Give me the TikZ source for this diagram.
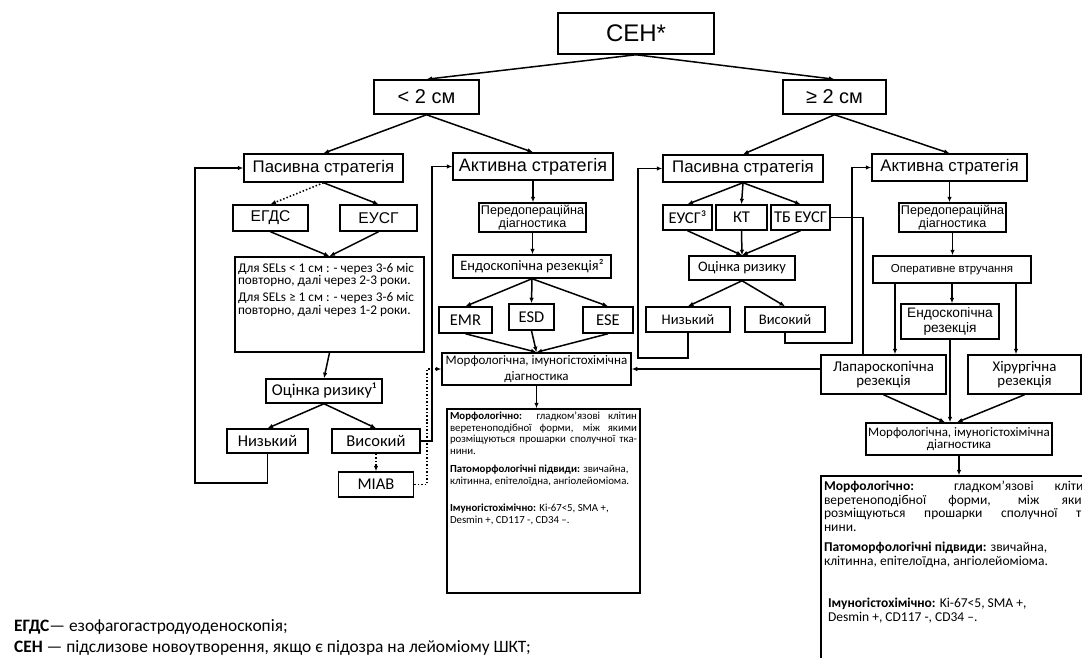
\documentclass[tikz,border=0pt]{standalone}
\usepackage{fontspec}
\setmainfont{Carlito}
\newfontfamily\arialf{Liberation Sans}
\usetikzlibrary{arrows.meta}

\begin{document}
\begin{tikzpicture}[x=1pt, y=-1pt,
    line width=1.5pt, >={Latex[length=5.5pt, width=4.5pt]},
    box/.style={rectangle, draw, fill=white, inner sep=1pt, align=center},
    sz/.style 2 args={minimum width=#1, minimum height=#2},
    af/.style 2 args={font=\arialf\fontsize{#1}{#2}\selectfont},
    cf/.style 2 args={font=\fontsize{#1}{#2}\selectfont}]
  \clip (0,0) rectangle (1082,658);
  \fill [white] (0,0) rectangle (1082,658);

  % Create the nodes
  \node (sen) [box, af={24}{26}, sz={156pt}{41pt}] at (636,33.5) {СЕН*};
  \node (lt2) [box, af={20}{22}, sz={105pt}{34pt}] at (426.5,97) {< 2 см};
  \node (ge2) [box, af={20}{22}, sz={103pt}{34pt}] at (834.5,97) {≥ 2 см};

  % < 2 cm, passive
  \node (pas1) [box, af={16.8}{18}, sz={159pt}{28pt}] at (323.5,168) {Пасивна стратегія};
  \node (egds) [box, af={15.6}{17}, sz={75pt}{26pt}] at (270.5,218) {ЕГДС};
  \node (eusg1) [box, af={15.6}{17}, sz={77pt}{26pt}] at (378.5,218) {ЕУСГ};
  \node (follow1) [box, inner sep=3pt, cf={13.3}{12.8}] at (329.5,304.5) {%
    \begin{minipage}[t][89pt][t]{183pt}
    \vspace*{3pt}Для SELs < 1 см : - через 3-6 міс\\
    повторно, далі через 2-3 роки.\par\vspace{4pt}
    Для SELs ≥ 1 см : - через 3-6 міс\\
    повторно, далі через 1-2 роки.
    \end{minipage}};
  \node (risk1) [box, cf={16.5}{18}, sz={116pt}{24pt}] at (324,391) {Оцінка ризику¹};
  \node (low1) [box, cf={16.5}{18}, sz={81pt}{24pt}] at (267.5,441) {Низький};
  \node (high1) [box, cf={16.5}{18}, sz={88pt}{24pt}] at (376,441) {Високий};
  \node (miab) [box, cf={16.5}{18}, sz={75pt}{25pt}] at (376,484.5) {МІАВ};

  % < 2 cm, active
  \node (act1) [box, af={18}{20}, sz={160pt}{27pt}] at (533,166.5) {Активна стратегія};
  \node (predop1) [box, af={12.6}{12.5}, sz={107pt}{29pt}] at (532.5,217.5) {Передопераційна\\діагностика};
  \node (endo1) [box, cf={14.4}{16}, sz={158pt}{23pt}] at (532,266.5) {Ендоскопічна резекція²};
  \node (emr) [box, cf={16.5}{18}, sz={53pt}{26pt}] at (465.5,320) {EMR};
  \node (esd) [box, cf={16.5}{18}, sz={45pt}{26pt}] at (531.5,317) {ESD};
  \node (ese) [box, cf={16.5}{18}, sz={50pt}{26pt}] at (608,320) {ESE};
  \node (morph1) [box, cf={13}{15.5}, sz={189pt}{32pt}] at (536.5,369) {Морфологічна, імуногістохімічна\\діагностика};
  \node (desc1) [box, inner sep=3pt, cf={10.8}{11.5}] at (543.5,501) {%
    \begin{minipage}[t][178pt][t]{187pt}
    \hyphenpenalty=10000
    \textbf{Морфологічно:} гладком’язові клітин\linebreak
    веретеноподібної форми, між якими\linebreak
    розміщуються прошарки сполучної тка-\linebreak
    нини.\par\vspace{7pt}
    \textbf{Патоморфологічні підвиди:} звичайна,\\
    клітинна, епітелоїдна, ангіолейоміома.\par\vspace{16pt}
    \textbf{Імуногістохімічно:} Ki-67<5, SMA +,\\
    Desmin +, CD117 -, CD34 –.
    \end{minipage}};

  % >= 2 cm, passive
  \node (pas2) [box, af={16.8}{18}, sz={160pt}{27pt}] at (743,168.5) {Пасивна стратегія};
  \node (eusg3) [box, cf={16.5}{18}, sz={49pt}{25pt}] at (687.5,217.5) {ЕУСГ³};
  \node (kt) [box, cf={16.5}{18}, sz={51pt}{25pt}] at (741.5,217.5) {КТ};
  \node (tbeusg) [box, cf={16.5}{18}, sz={59pt}{25pt}] at (800.5,217.5) {ТБ ЕУСГ};
  \node (risk2) [box, cf={14.5}{16}, sz={106pt}{24pt}] at (742,268) {Оцінка ризику};
  \node (low2) [box, cf={14.6}{16}, sz={84pt}{25pt}] at (688,319.5) {Низький};
  \node (high2) [box, cf={14.6}{16}, sz={80pt}{25pt}] at (785,319.5) {Високий};

  % >= 2 cm, active
  \node (act2) [box, af={16.8}{18}, sz={155pt}{27pt}] at (949.5,167.5) {Активна стратегія};
  \node (predop2) [box, af={12.6}{12.5}, sz={107pt}{29pt}] at (952.5,217.5) {Передопераційна\\діагностика};
  \node (oper) [box, af={11.5}{13}, sz={158pt}{27pt}] at (952,269.5) {Оперативне втручання};
  \node (endo2) [box, af={13.7}{14.3}, sz={98pt}{35pt}] at (950,321.5) {Ендоскопічна\\резекція};
  \node (lap) [box, cf={14.9}{14.3}, sz={125pt}{39pt}] at (883.5,374.5) {Лапароскопічна\\резекція};
  \node (hir) [box, cf={14.8}{14.3}, sz={113pt}{39pt}] at (1024.5,374.5) {Хірургічна\\резекція};
  \node (morph2) [box, cf={13}{11.5}, sz={186pt}{32pt}] at (959,439) {Морфологічна, імуногістохімічна\\діагностика};
  \node (desc2) [box, inner sep=3pt, cf={13.5}{13.5}] at (961,578) {%
    \begin{minipage}[t][198pt][t]{274pt}
    \hyphenpenalty=10000
    \vspace*{2pt}\textbf{Морфологічно:} гладком’язові клітини\linebreak
    веретеноподібної форми, між якими\linebreak
    розміщуються прошарки сполучної тка-\linebreak
    нини.\par\vspace{7pt}
    \textbf{Патоморфологічні підвиди:} звичайна,\\
    клітинна, епітелоїдна, ангіолейоміома.\par\vspace{29pt}
    {\leftskip=4pt \textbf{Імуногістохімічно:} Ki-67<5, SMA +,\\
    Desmin +, CD117 -, CD34 –.\par}
    \end{minipage}};

  % Footnotes
  \node (note1) [anchor=west, cf={17.4}{19}] at (10,627) {\textbf{ЕГДС}— езофагогастродуоденоскопія;};
  \node (note2) [anchor=west, cf={17.4}{19}] at (10,648) {\textbf{СЕН} — підслизове новоутворення, якщо є підозра на лейоміому ШКТ;};

  % Corner points of the return lines
  \coordinate (loop1) at (195,483);
  \coordinate (riseA) at (432,300);
  \coordinate (riseB) at (427,420);
  \coordinate (loop2) at (638,358);
  \coordinate (loop3) at (852,343);
  \coordinate (drop1) at (863,0);
  \coordinate (lapin) at (895,0);
  \coordinate (hirin) at (1016,0);

  % Draw the arrows
  \draw [->] (sen.south) -- (lt2.north);
  \draw [->] (sen.south) -- (ge2.north);
  \draw [->] (lt2.south) -- (pas1.north);
  \draw [->] (lt2.south) -- (act1.north);
  \draw [->] (ge2.south) -- (pas2.north);
  \draw [->] (ge2.south) -- (act2.north);

  \draw [->, dotted] (pas1.south) -- (egds.north);
  \draw [->] (pas1.south) -- (eusg1.north);
  \draw [->] (egds.south) -- (follow1.north);
  \draw [->] (eusg1.south) -- (follow1.north);
  \draw [->] (follow1.south) -- (risk1.north);
  \draw [->] (risk1.south) -- (low1.north);
  \draw [->] (risk1.south) -- (high1.north);
  \draw [->, dotted] (high1.south) -- (miab.north);
  \draw [->] (low1.south) |- (loop1) |- (pas1.west);
  \draw [->] (high1.east) -| (riseA) |- (act1.west);
  \draw [->, dotted] (miab.east) -| (riseB) |- (morph1.west);

  \draw [->] (act1.south) -- (act1.south |- predop1.north);
  \draw [->] (predop1.south) -- (predop1.south |- endo1.north);
  \draw [->] (endo1.south) -- (emr.north);
  \draw [->] (endo1.south) -- (esd.north);
  \draw [->] (endo1.south) -- (ese.north);
  \draw [->] (emr.south) -- (morph1.north);
  \draw [->] (esd.south) -- (morph1.north);
  \draw [->] (ese.south) -- (morph1.north);
  \draw [->] (morph1.south) -- (morph1.south |- desc1.north);

  \draw [->] (pas2.south) -- (eusg3.north);
  \draw [->] (pas2.south) -- (kt.north);
  \draw [->] (pas2.south) -- (tbeusg.north);
  \draw [->] (eusg3.south) -- (risk2.north);
  \draw [->] (kt.south) -- (risk2.north);
  \draw [->] (tbeusg.south) -- (risk2.north);
  \draw [->] (risk2.south) -- (low2.north);
  \draw [->] (risk2.south) -- (high2.north);
  \draw [->] (low2.south) |- (loop2) |- (pas2.west);
  \draw [->] (high2.south) |- (loop3) |- (act2.west);
  \draw (tbeusg.east) -| (lap.north -| drop1);
  \draw [->] (morph1.east -| lap.west) -- (morph1.east);

  \draw [->] (act2.south) -- (act2.south |- predop2.north);
  \draw [->] (predop2.south) -- (predop2.south |- oper.north);
  \draw [->] (oper.south) -- (oper.south |- endo2.north);
  \draw [->] (oper.south -| lapin) -- (lapin |- lap.north);
  \draw [->] (oper.south -| hirin) -- (hirin |- hir.north);
  \draw [->] (endo2.south) -- (endo2.south |- morph2.north);
  \draw [->] (lap.south) -- ([xshift=-14pt]morph2.north);
  \draw [->] (hir.south) -- ([xshift=-2pt]morph2.north);
  \draw [->] (morph2.south) -- (morph2.south |- desc2.north);
\end{tikzpicture}
\end{document}
